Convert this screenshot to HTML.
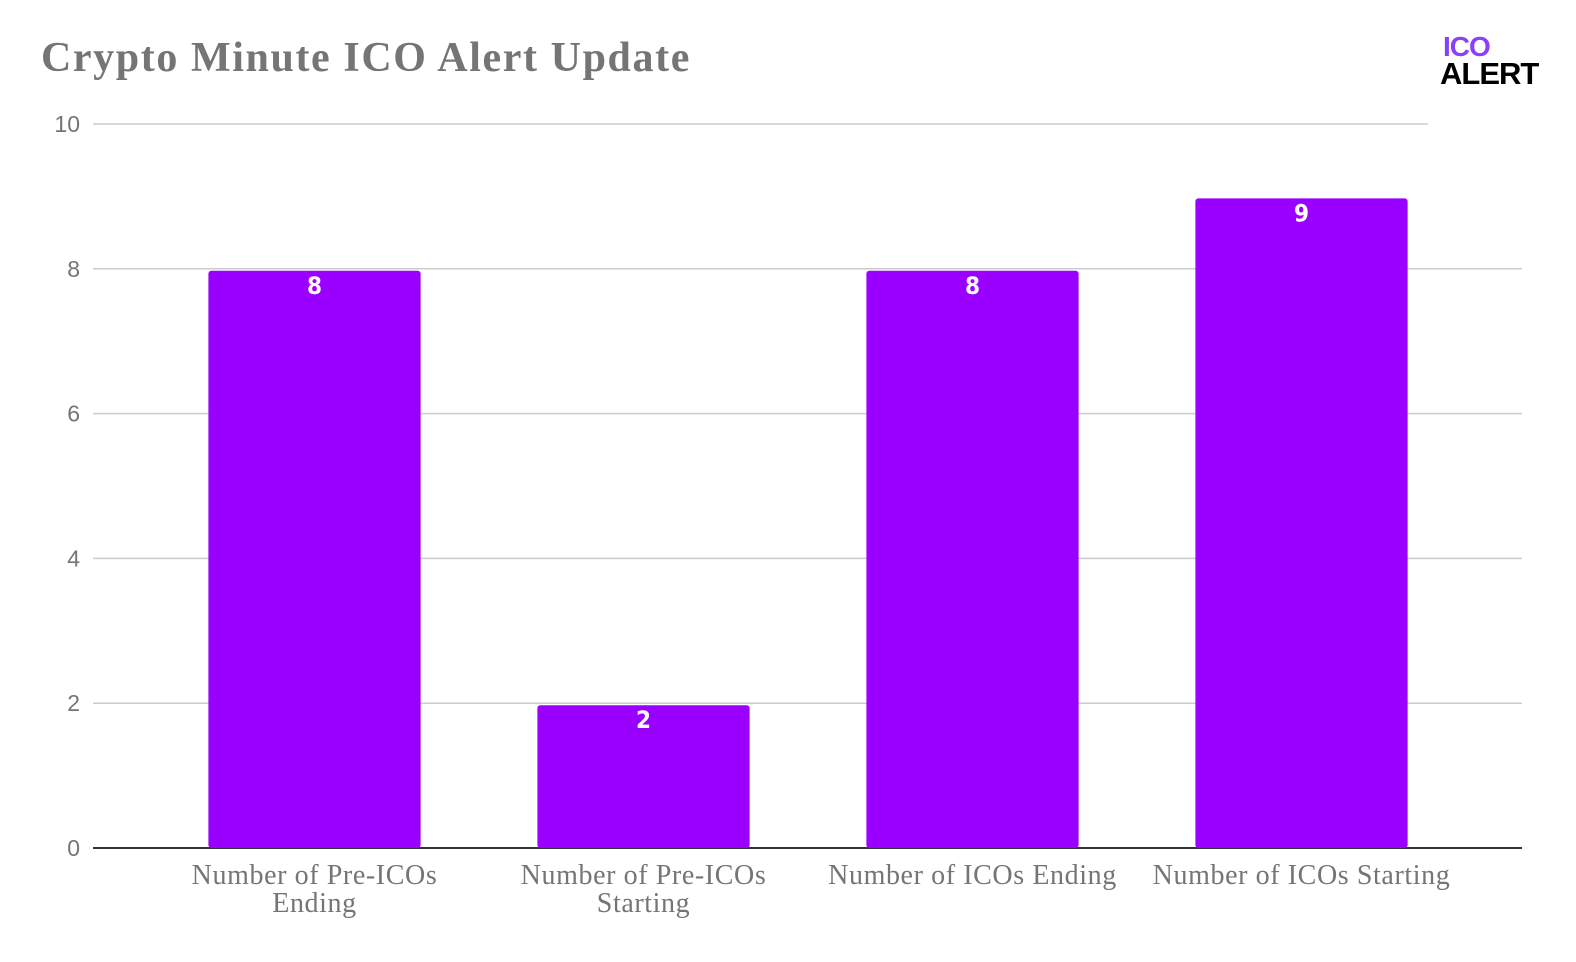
<!DOCTYPE html>
<html><head><meta charset="utf-8"><style>
body{margin:0;background:#fff;width:1576px;height:962px;overflow:hidden;position:relative;font-family:"Liberation Sans",sans-serif}
#title{position:absolute;left:41px;top:34px;font-family:"Liberation Serif",serif;font-weight:bold;font-size:42px;letter-spacing:1.6px;color:#757575}
#logo{position:absolute;left:1440px;top:33px;font-weight:900;line-height:27px}
</style></head><body>
<div id="title">Crypto Minute ICO Alert Update</div>
<div id="logo"><div style="color:#8a3ffc;font-size:28px;margin-left:3px;letter-spacing:-1px">ICO</div><div style="color:#000;font-size:31px;letter-spacing:-1px">ALERT</div></div>
<svg id="chart" width="1576" height="962" style="position:absolute;left:0;top:0"></svg>
<script>
const categories=[["Number of Pre-ICOs","Ending"],["Number of Pre-ICOs","Starting"],["Number of ICOs Ending"],["Number of ICOs Starting"]];
const values=[8,2,8,9];
const ticks=[0,2,4,6,8,10];
const svg=document.getElementById('chart');
const NS='http://www.w3.org/2000/svg';
const y0=848,yTop=124,vmax=10,xL=150,xR=1466;
const y=v=>y0-(y0-yTop)*v/vmax;
const band=(xR-xL)/categories.length;
const bw=band*0.645;
function mk(t,a){const e=document.createElementNS(NS,t);for(const k in a)e.setAttribute(k,a[k]);svg.appendChild(e);return e;}
ticks.forEach(t=>{
 const ln=mk('line',{x1:93,x2:t===10?1428:1522,y1:y(t),y2:y(t),stroke:t===0?'#333':'#ccc','stroke-width':t===0?2:1.5});
 
 
 const tx=mk('text',{x:80,y:y(t)+8,'text-anchor':'end','font-size':23,fill:'#757575','font-family':'Liberation Sans, sans-serif'});
 tx.textContent=t;
 
 
});
values.forEach((v,i)=>{
 const cx=xL+band*(i+0.5);
 const r=mk('rect',{x:cx-bw/2,y:y(v)+2,width:bw,height:y0-y(v)-2,rx:3,fill:'#9900ff'});
 
 
 const l=mk('text',{x:cx,y:y(v)+25,'text-anchor':'middle','font-size':24,'font-weight':'bold',fill:'#fff','font-family':'DejaVu Sans Condensed, Liberation Sans, sans-serif'});
 l.textContent=v;
 
 
 categories[i].forEach((s,j)=>{
  const c=mk('text',{x:cx,y:884+j*28,'text-anchor':'middle','font-size':28,'letter-spacing':0.6,fill:'#757575','font-family':'Liberation Serif, serif'});
  c.textContent=s;
  
  
 });
});
</script>
</body></html>
